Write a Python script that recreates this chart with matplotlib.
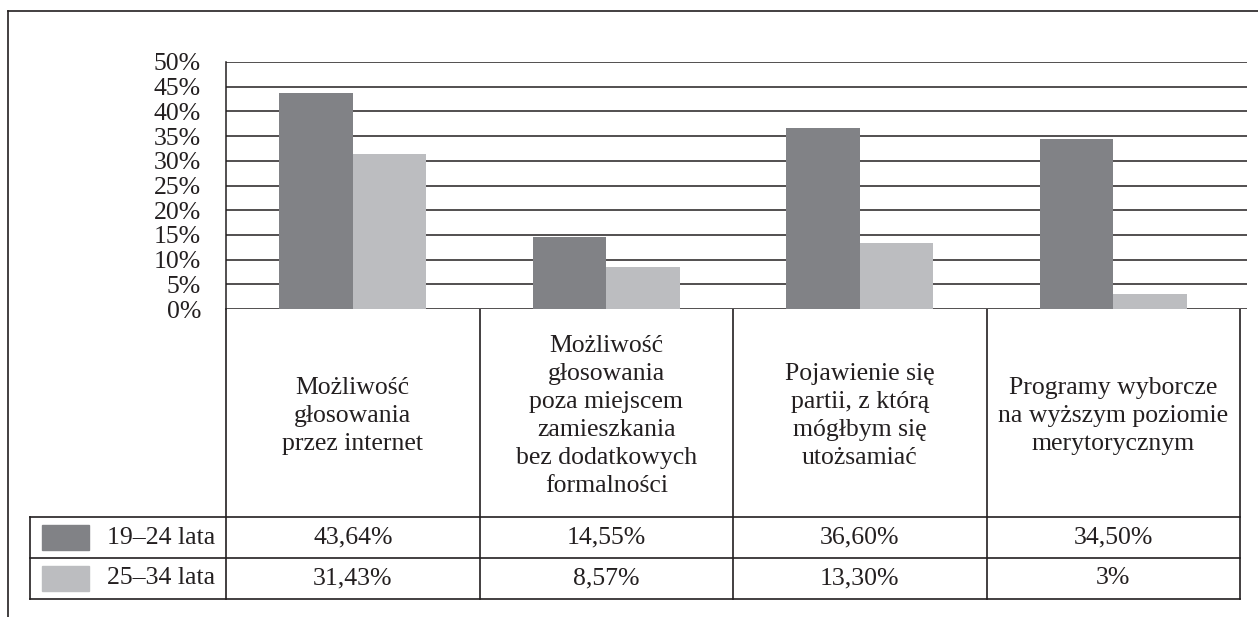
import matplotlib.pyplot as plt
from matplotlib.patches import Rectangle

plt.rcParams['font.family'] = ['Liberation Serif', 'DejaVu Serif']

# dane
categories = [
    "Możliwość\ngłosowania\nprzez internet",
    "Możliwość\ngłosowania\npoza miejscem\nzamieszkania\nbez dodatkowych\nformalności",
    "Pojawienie się\npartii, z którą\nmógłbym się\nutożsamiać",
    "Programy wyborcze\nna wyższym poziomie\nmerytorycznym",
]
series_names = ["19–24 lata", "25–34 lata"]
young = [43.64, 14.55, 36.60, 34.50]
older = [31.43, 8.57, 13.30, 3]
young_labels = ["43,64%", "14,55%", "36,60%", "34,50%"]
older_labels = ["31,43%", "8,57%", "13,30%", "3%"]
yticks = [0, 5, 10, 15, 20, 25, 30, 35, 40, 45, 50]
colors = ["#818286", "#bcbdc0"]

INK = "#231f20"
W, H = 1258, 617
FS = 18.5

fig = plt.figure(figsize=(W / 100, H / 100), dpi=100)

# układ w pikselach
left, right_grid, right_tab = 226, 1247, 1240
y0, y50 = 309, 62
col_w = (right_tab - left) / len(categories)
head_bot, row1_bot, row2_bot = 517, 558, 599
leg_left = 30

ax = fig.add_axes([left / W, (H - y0) / H, (right_grid - left) / W, (y0 - y50) / H])
ax.set_xlim(-0.5, -0.5 + (right_grid - left) / col_w)
ax.set_ylim(0, 50)
bw = 0.29
x = range(len(categories))
ax.bar([i - bw / 2 for i in x], young, width=bw, color=colors[0], zorder=3)
ax.bar([i + bw / 2 for i in x], older, width=bw, color=colors[1], zorder=3)
for t in yticks:
    ax.axhline(t, color=INK, lw=1.1, zorder=1)
ax.set_yticks(yticks)
ax.set_yticklabels([f"{t}%" for t in yticks], fontsize=FS)
ax.tick_params(axis='y', length=0, pad=18, colors=INK)
ax.set_xticks([])
for s in ['top', 'right', 'bottom']:
    ax.spines[s].set_visible(False)
ax.spines['left'].set_color(INK)
ax.spines['left'].set_linewidth(1.1)

# tabela i ramka
fr = fig.add_axes([0, 0, 1, 1], zorder=-1)
fr.set_xlim(0, W)
fr.set_ylim(H, 0)
fr.axis('off')
fr.patch.set_alpha(0)
lw = 1.2
fr.plot([8, W], [11, 11], color=INK, lw=lw)
fr.plot([8, 8], [11, H], color=INK, lw=lw)

edges = [left + col_w * i for i in range(len(categories) + 1)]
for e in edges:
    fr.plot([e, e], [y0, row2_bot], color=INK, lw=lw)
fr.plot([leg_left, leg_left], [head_bot, row2_bot], color=INK, lw=lw)
for yy in (head_bot, row1_bot, row2_bot):
    fr.plot([leg_left, right_tab], [yy, yy], color=INK, lw=lw)

for i, cat in enumerate(categories):
    cx = (edges[i] + edges[i + 1]) / 2
    fr.text(cx, (y0 + head_bot) / 2 + 3, cat, ha='center', va='center',
            fontsize=FS, color=INK, linespacing=1.35)
    fr.text(cx, (head_bot + row1_bot) / 2, young_labels[i], ha='center',
            va='center', fontsize=FS, color=INK)
    fr.text(cx, (row1_bot + row2_bot) / 2, older_labels[i], ha='center',
            va='center', fontsize=FS, color=INK)

for k, (name, c) in enumerate(zip(series_names, colors)):
    top = [head_bot, row1_bot][k]
    bot = [row1_bot, row2_bot][k]
    fr.add_patch(Rectangle((42, top + 8), 47, 25, color=c))
    fr.text(215, (top + bot) / 2, name, ha='right', va='center',
            fontsize=FS, color=INK)

fig.savefig("out.png", dpi=100)
